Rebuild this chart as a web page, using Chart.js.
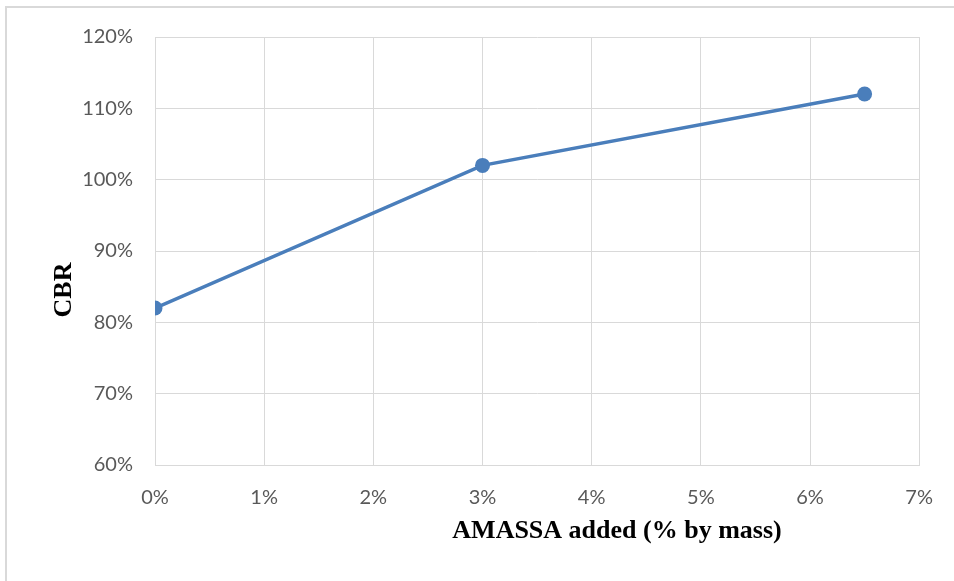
<!DOCTYPE html>
<html>
<head>
<meta charset="utf-8">
<script src="https://cdn.jsdelivr.net/npm/chart.js@4/dist/chart.umd.min.js"></script>
<style>
  html, body { margin: 0; padding: 0; background: #ffffff; }
  #wrap { position: relative; width: 954px; height: 581px; }
</style>
</head>
<body>
<div id="wrap"><canvas id="cbr"></canvas></div>
<script>
// AMASSA content (% by mass) and the measured CBR (%)
const amassaAdded = [0, 3, 6.5];
const cbrValues = [82, 102, 112];
const xTickRange = { min: 0, max: 7, step: 1 };
const yTickRange = { min: 60, max: 120, step: 10 };
const xAxisTitle = 'AMASSA added (% by mass)';
const yAxisTitle = 'CBR';

const gridGrey = '#d9d9d9';
const tickGrey = '#595959';
const seriesBlue = '#4a7ebb';

// Frame around the chart plus the two axis titles
const decorations = {
  id: 'decorations',
  beforeDraw(chart) {
    const ctx = chart.ctx;
    ctx.save();
    ctx.fillStyle = '#ffffff';
    ctx.fillRect(0, 0, chart.width, chart.height);
    ctx.strokeStyle = gridGrey;
    ctx.lineWidth = 2;
    ctx.beginPath();
    ctx.moveTo(6, chart.height + 5);
    ctx.lineTo(6, 7);
    ctx.lineTo(chart.width + 5, 7);
    ctx.stroke();
    ctx.restore();
  },
  afterDraw(chart) {
    const ctx = chart.ctx;
    const area = chart.chartArea;
    ctx.save();
    ctx.fillStyle = '#000000';
    ctx.font = 'bold 26px "Liberation Serif", "Times New Roman", serif';
    ctx.textAlign = 'center';
    ctx.textBaseline = 'middle';
    ctx.fillText(xAxisTitle, area.left + 462, area.bottom + 66);
    ctx.translate(area.left - 91, area.top + 253);
    ctx.rotate(-Math.PI / 2);
    ctx.fillText(yAxisTitle, 0, 0);
    ctx.restore();
  }
};

new Chart(document.getElementById('cbr'), {
  type: 'scatter',
  data: {
    datasets: [{
      label: yAxisTitle,
      data: amassaAdded.map((x, i) => ({ x: x, y: cbrValues[i] })),
      showLine: true,
      borderColor: seriesBlue,
      backgroundColor: seriesBlue,
      borderWidth: 3.5,
      pointRadius: 7.5,
      pointHoverRadius: 7.5,
      pointBorderWidth: 0,
      tension: 0
    }]
  },
  options: {
    responsive: true,
    maintainAspectRatio: false,
    animation: false,
    events: [],
    layout: { padding: { top: 37, right: 33, left: 0, bottom: 0 } },
    plugins: {
      legend: { display: false },
      title: { display: false },
      tooltip: { enabled: false }
    },
    scales: {
      x: {
        type: 'linear',
        min: xTickRange.min,
        max: xTickRange.max,
        afterFit(scale) { scale.height = 116; },
        grid: { color: gridGrey, lineWidth: 1, drawTicks: false },
        border: { color: gridGrey, width: 1 },
        ticks: {
          stepSize: xTickRange.step,
          padding: 21,
          color: tickGrey,
          font: { family: 'Lato, "Open Sans", sans-serif', size: 20 },
          callback: v => v + '%'
        }
      },
      y: {
        type: 'linear',
        min: yTickRange.min,
        max: yTickRange.max,
        afterFit(scale) { scale.width = 155; },
        grid: { color: gridGrey, lineWidth: 1, drawTicks: false },
        border: { color: gridGrey, width: 1 },
        ticks: {
          stepSize: yTickRange.step,
          padding: 22,
          color: tickGrey,
          font: { family: 'Lato, "Open Sans", sans-serif', size: 20 },
          callback: v => v + '%'
        }
      }
    }
  },
  plugins: [decorations]
});
</script>
</body>
</html>
